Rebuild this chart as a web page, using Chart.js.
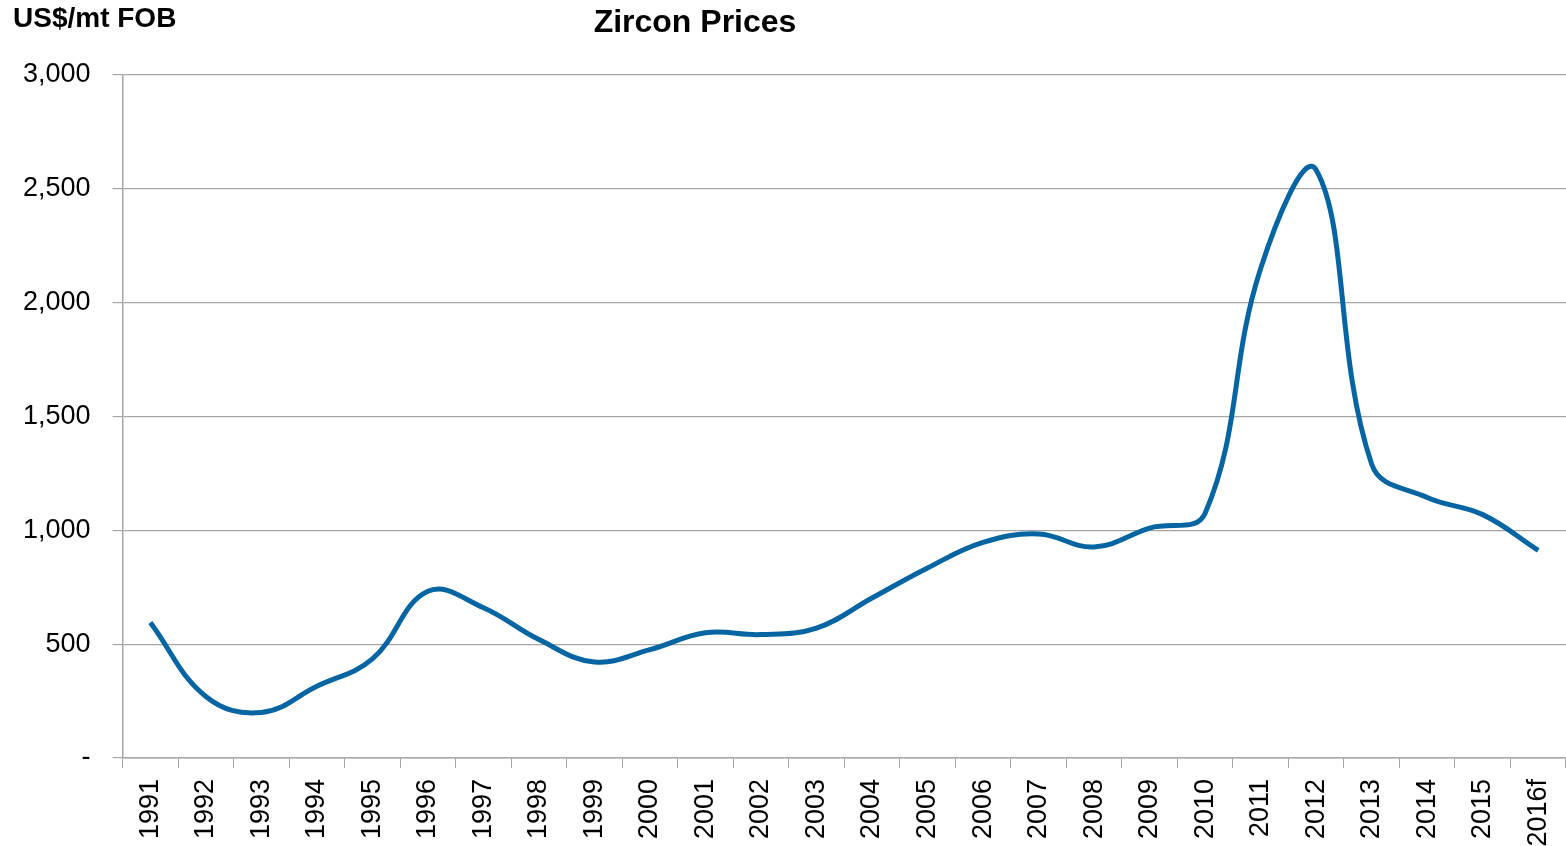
<!DOCTYPE html>
<html>
<head>
<meta charset="utf-8">
<script src="https://cdn.jsdelivr.net/npm/chart.js@4"></script>
<style>
  html, body { margin: 0; padding: 0; background: #fff; }
  #wrap { width: 1566px; height: 846px; position: relative; }
</style>
</head>
<body>
<div id="wrap"><canvas id="zircon"></canvas></div>
<script>
// --- Data ---
const years = ['1991', '1992', '1993', '1994', '1995', '1996', '1997', '1998', '1999', '2000',
    '2001', '2002', '2003', '2004', '2005', '2006', '2007', '2008', '2009', '2010',
    '2011', '2012', '2013', '2014', '2015', '2016f'];
const prices = [595, 270, 200, 315, 435, 732, 660, 520, 422, 476,
    550, 542, 571, 703, 835, 947, 984, 927, 1010, 1075,
    2150, 2583, 1290, 1144, 1069, 912];
const yTicks = [0, 500, 1000, 1500, 2000, 2500, 3000];

const chartTitle = 'Zircon Prices';
const unitLabel = 'US$/mt FOB';

Chart.defaults.font.family = "'Liberation Sans', Arial, sans-serif";
Chart.defaults.color = '#000';

const gridGray = '#a6a6a6';

// Title and unit label sit at fixed spots, not centred on the canvas
const headerText = {
    id: 'headerText',
    afterDraw(chart) {
        const ctx = chart.ctx;
        ctx.save();
        ctx.fillStyle = '#000';
        ctx.textBaseline = 'middle';
        ctx.font = "bold 28px 'Liberation Sans', Arial, sans-serif";
        ctx.textAlign = 'left';
        ctx.fillText(unitLabel, 13, 19);
        ctx.font = "bold 32px 'Liberation Sans', Arial, sans-serif";
        ctx.textAlign = 'center';
        ctx.fillText(chartTitle, 695, 23);
        ctx.restore();
    }
};

new Chart(document.getElementById('zircon'), {
    type: 'line',
    data: {
        labels: years,
        datasets: [{
            label: chartTitle,
            data: prices,
            borderColor: '#0565a3',
            borderWidth: 5,
            pointRadius: 0,
            tension: 0.4,
            fill: false
        }]
    },
    options: {
        responsive: true,
        maintainAspectRatio: false,
        animation: false,
        layout: { padding: { top: 75, left: 1, right: 0, bottom: 0 } },
        plugins: {
            legend: { display: false },
            tooltip: { enabled: false }
        },
        scales: {
            x: {
                offset: true,
                // plot runs right up to the canvas edge, axis band fixed at 88px
                afterFit: axis => { axis.paddingRight = 0; axis.height = 88; },
                grid: {
                    offset: true,
                    drawOnChartArea: false,
                    drawTicks: true,
                    tickLength: 10,
                    color: gridGray
                },
                border: { color: gridGray, width: 1.5 },
                ticks: {
                    autoSkip: false,
                    maxRotation: 90,
                    minRotation: 90,
                    padding: 11,
                    font: { size: 27 }
                }
            },
            y: {
                min: 0,
                max: 3000,
                afterBuildTicks: axis => { axis.ticks = yTicks.map(v => ({ value: v })); },
                grid: {
                    color: gridGray,
                    lineWidth: 1.2,
                    tickLength: 10
                },
                border: { color: gridGray, width: 1.5 },
                ticks: {
                    padding: 22,
                    font: { size: 27 },
                    callback: v => v === 0 ? '-' : v.toLocaleString('en-US')
                }
            }
        }
    },
    plugins: [headerText]
});
</script>
</body>
</html>
